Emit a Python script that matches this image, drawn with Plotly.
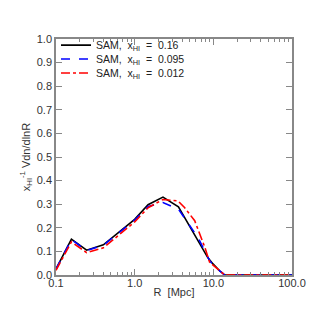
import plotly.graph_objects as go

# Data
r_black = [0.1, 0.157, 0.245, 0.4, 1.0, 1.48, 2.29, 3.6, 8.5, 9.9, 12.0, 14.0, 20.0, 40.0, 100.0]
y_black = [0.025, 0.152, 0.105, 0.128, 0.236, 0.298, 0.33, 0.289, 0.074, 0.047, 0.018, 0.0, 0.0, 0.0, 0.0]

r_blue = [0.1, 0.157, 0.245, 0.4, 1.0, 1.48, 2.29, 3.6, 6.37, 9.0, 10.4, 14.0, 20.0, 40.0, 100.0]
y_blue = [0.025, 0.15, 0.103, 0.126, 0.233, 0.29, 0.307, 0.279, 0.159, 0.06, 0.035, 0.0, 0.0, 0.0, 0.0]

r_red = [0.1, 0.157, 0.245, 0.4, 1.0, 1.48, 2.29, 3.55, 4.3, 5.8, 7.8, 9.0, 11.4, 14.0, 20.0, 40.0, 100.0]
y_red = [0.02, 0.14, 0.095, 0.115, 0.225, 0.285, 0.32, 0.314, 0.286, 0.23, 0.117, 0.053, 0.025, 0.0, 0.0, 0.0, 0.0]

NB = "\u00a0"
names = [f"SAM,{NB}{NB}x<sub>HI</sub>{NB}{NB}={NB}{NB}0.16",
         f"SAM,{NB}{NB}x<sub>HI</sub>{NB}{NB}={NB}{NB}0.095",
         f"SAM,{NB}{NB}x<sub>HI</sub>{NB}{NB}={NB}{NB}0.012"]

x_tickvals = [0.1, 1.0, 10.0, 100.0]
x_ticktext = ["0.1", "1.0", "10.0", "100.0"]
x_minor = [0.2, 0.3, 0.4, 0.5, 0.6, 0.7, 0.8, 0.9,
           2, 3, 4, 5, 6, 7, 8, 9,
           20, 30, 40, 50, 60, 70, 80, 90]
y_tickvals = [0.0, 0.1, 0.2, 0.3, 0.4, 0.5, 0.6, 0.7, 0.8, 0.9, 1.0]
y_ticktext = ["0.0", "0.1", "0.2", "0.3", "0.4", "0.5", "0.6", "0.7", "0.8", "0.9", "1.0"]

fam = "Liberation Sans, Arial, sans-serif"

fig = go.Figure()
fig.add_trace(go.Scatter(x=r_black, y=y_black, mode="lines", name=names[0], legend="legend",
                         line=dict(color="black", width=1.6)))
fig.add_trace(go.Scatter(x=r_blue, y=y_blue, mode="lines", name=names[1], legend="legend2",
                         line=dict(color="blue", width=1.6, dash="dash")))
fig.add_trace(go.Scatter(x=r_red, y=y_red, mode="lines", name=names[2], legend="legend3",
                         line=dict(color="red", width=1.6, dash="dashdot")))

leg_common = dict(xanchor="left", yanchor="middle", bgcolor="rgba(0,0,0,0)",
                  font=dict(size=10.5, family=fam, color="#222"), itemwidth=30)

fig.update_layout(
    width=315, height=315,
    margin=dict(l=48, r=31, t=31, b=48),
    paper_bgcolor="white", plot_bgcolor="white",
    font=dict(family=fam, size=11, color="#333"),
    showlegend=True,
    legend=dict(x=0.0, y=0.974, **leg_common),
    legend2=dict(x=0.0, y=0.915, **leg_common),
    legend3=dict(x=0.0, y=0.856, **leg_common),
)
fig.update_xaxes(
    type="log", range=[-1, 2],
    tickvals=x_tickvals, ticktext=x_ticktext,
    ticks="inside", ticklen=6, tickcolor="#888",
    ticklabelstandoff=-3,
    minor=dict(tickvals=x_minor, ticks="inside", ticklen=3, tickcolor="#888", showgrid=False),
    showline=True, linecolor="#888", linewidth=1.5, mirror="ticks",
    showgrid=False, zeroline=False,
    title=dict(text="R  [Mpc]", standoff=0, font=dict(size=11)),
)
fig.update_yaxes(
    range=[0, 1.0],
    tickvals=y_tickvals, ticktext=y_ticktext,
    ticks="inside", ticklen=6, tickcolor="#888",
    showline=True, linecolor="#888", linewidth=1.5, mirror="ticks",
    showgrid=False, zeroline=False,
    title=dict(text="x<sub>HI</sub><sup>-1</sup> Vdn/dlnR", standoff=4, font=dict(size=11)),
)

fig.write_html("out.html")
